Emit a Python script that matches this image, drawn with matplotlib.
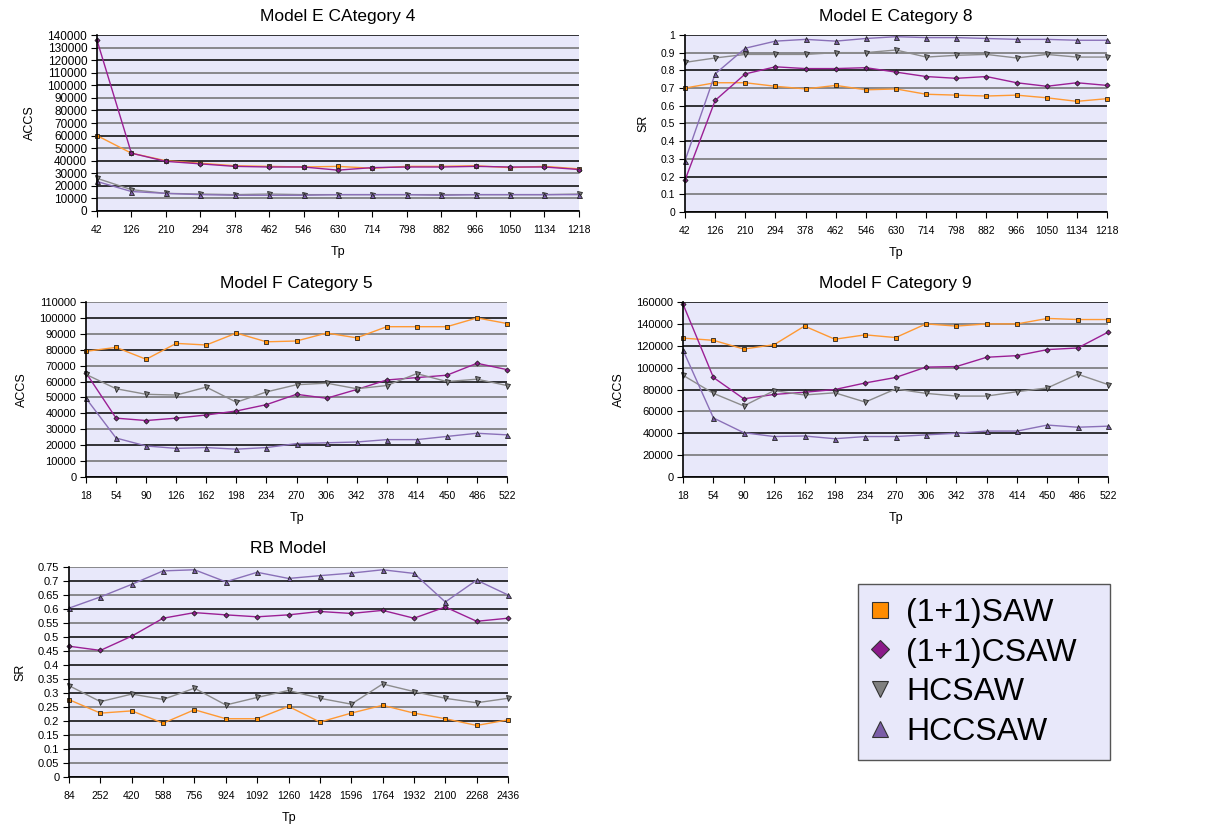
import numpy as np
import matplotlib.pyplot as plt
from matplotlib.patches import Rectangle

plt.rcParams['font.family'] = ['Liberation Sans', 'DejaVu Sans']

### Data
series_names = ['(1+1)SAW', '(1+1)CSAW', 'HCSAW', 'HCCSAW']

# Model E Category 4 (ACCS)
tp_e = [42, 126, 210, 294, 378, 462, 546, 630, 714, 798, 882, 966, 1050, 1134, 1218]
e4_saw = [60000, 46000, 40000, 38000, 36000, 35500, 35000, 35500, 34000, 35500, 35500, 36000, 34500, 35500, 33500]
e4_csaw = [136000, 46000, 39500, 37500, 35500, 35000, 35000, 32500, 34500, 35000, 35000, 35500, 35000, 35000, 33000]
e4_hcsaw = [26000, 17000, 14000, 13500, 13000, 13500, 13000, 13000, 13000, 13000, 13000, 13000, 13000, 13000, 13500]
e4_hccsaw = [23500, 15500, 14000, 13000, 12500, 12500, 12500, 13000, 13000, 13000, 12500, 13000, 13000, 13000, 13000]

# Model E Category 8 (SR)
e8_saw = [0.70, 0.73, 0.73, 0.71, 0.695, 0.715, 0.69, 0.695, 0.665, 0.66, 0.655, 0.66, 0.645, 0.625, 0.64]
e8_csaw = [0.18, 0.63, 0.78, 0.82, 0.81, 0.81, 0.815, 0.79, 0.765, 0.755, 0.765, 0.73, 0.71, 0.73, 0.715]
e8_hcsaw = [0.845, 0.87, 0.89, 0.89, 0.89, 0.90, 0.90, 0.915, 0.875, 0.885, 0.89, 0.87, 0.89, 0.875, 0.875]
e8_hccsaw = [0.29, 0.78, 0.925, 0.965, 0.975, 0.965, 0.98, 0.99, 0.985, 0.985, 0.98, 0.975, 0.975, 0.97, 0.97]

# Model F Category 5 (ACCS)
tp_f = [18, 54, 90, 126, 162, 198, 234, 270, 306, 342, 378, 414, 450, 486, 522]
f5_saw = [79000, 81500, 74000, 84000, 83000, 90500, 85000, 85500, 90500, 87500, 94500, 94500, 94500, 100000, 96500]
f5_csaw = [65500, 37000, 35500, 37000, 39000, 41500, 45500, 52000, 49500, 55000, 61000, 62500, 64000, 71500, 67500]
f5_hcsaw = [64500, 55500, 52000, 51500, 56500, 47000, 53500, 58000, 59000, 55500, 57500, 65000, 60000, 61500, 57500]
f5_hccsaw = [49500, 24500, 19500, 18000, 18500, 17500, 18500, 21000, 21500, 22000, 23500, 23500, 25500, 27500, 26500]

# Model F Category 9 (ACCS)
f9_saw = [127000, 125000, 117000, 121000, 138000, 126000, 130000, 127500, 140000, 138000, 140000, 140000, 145000, 144000, 144000]
f9_csaw = [158000, 91000, 71500, 75500, 77500, 80000, 86000, 91000, 100500, 101000, 109500, 111000, 116500, 118000, 132500]
f9_hcsaw = [93000, 76500, 65000, 79000, 75000, 77000, 68500, 80500, 76500, 74000, 74000, 78000, 81500, 94000, 84500]
f9_hccsaw = [116000, 54000, 40500, 37000, 37500, 35000, 37000, 37000, 38500, 40000, 42000, 42000, 47500, 45500, 46500]

# RB Model (SR)
tp_rb = [84, 252, 420, 588, 756, 924, 1092, 1260, 1428, 1596, 1764, 1932, 2100, 2268, 2436]
rb_saw = [0.276, 0.228, 0.236, 0.192, 0.240, 0.208, 0.208, 0.252, 0.196, 0.228, 0.256, 0.228, 0.208, 0.184, 0.204]
rb_csaw = [0.467, 0.452, 0.503, 0.567, 0.587, 0.579, 0.572, 0.579, 0.591, 0.584, 0.595, 0.567, 0.607, 0.556, 0.567]
rb_hcsaw = [0.326, 0.269, 0.296, 0.277, 0.317, 0.257, 0.284, 0.309, 0.281, 0.260, 0.332, 0.305, 0.281, 0.265, 0.281]
rb_hccsaw = [0.603, 0.643, 0.688, 0.736, 0.740, 0.697, 0.731, 0.709, 0.719, 0.728, 0.740, 0.727, 0.625, 0.703, 0.650]

### Styles
line_colors = ['#FF9933', '#9B1F95', '#8C8C8C', '#8A70B8']
face_colors = ['#FF8C00', '#8B1A89', '#808080', '#7B5EA7']
markers = ['s', 'D', 'v', '^']
msizes = [3.2, 2.6, 3.6, 3.6]
bg = '#E8E8FA'


def draw_panel(rect, title, tp, series, ymax, ystep, ylabel, fmt, ysize=7.5):
    ax = fig.add_axes(rect)
    ax.set_facecolor(bg)
    x = np.arange(len(tp))
    yt = np.arange(0, ymax + ystep / 2, ystep)
    for i, v in enumerate(yt):
        col = '#000000' if i % 2 == 0 else '#6E6E6E'
        ax.axhline(v, color=col, lw=1.1, zorder=1)
    for k, ys in enumerate(series):
        ax.plot(x, ys, color=line_colors[k], lw=1.0, marker=markers[k],
                ms=msizes[k], mfc=face_colors[k], mec='#222222', mew=0.6,
                zorder=3, clip_on=False)
    ax.set_xlim(0, len(tp) - 1)
    ax.set_ylim(0, ymax)
    ax.set_xticks(x)
    ax.set_xticklabels([str(t) for t in tp])
    ax.set_yticks(yt)
    ax.set_yticklabels([fmt(v) for v in yt])
    ax.tick_params(axis='both', labelsize=7.5, length=4, width=0.8, direction='out', pad=3)
    ax.tick_params(axis='y', labelsize=ysize)
    ax.tick_params(axis='x', pad=6)
    for s in ['top', 'right']:
        ax.spines[s].set_visible(False)
    for s in ['left', 'bottom']:
        ax.spines[s].set_color('black')
        ax.spines[s].set_linewidth(1.2)
        ax.spines[s].set_zorder(4)
    ax.set_title(title, fontsize=12.5, pad=10)
    ax.set_xlabel('Tp', fontsize=9, labelpad=8)
    ax.set_ylabel(ylabel, fontsize=9, labelpad=8)
    return ax


fig = plt.figure(figsize=(12.18, 8.3), dpi=100)

acc_fmt = lambda v: '%d' % int(round(v))
sr_fmt = lambda v: ('%g' % round(v, 2))

draw_panel([0.0796, 0.7458, 0.3957, 0.212], 'Model E CAtegory 4', tp_e,
           [e4_saw, e4_csaw, e4_hcsaw, e4_hccsaw], 140000, 10000, 'ACCS', acc_fmt, ysize=8.5)
draw_panel([0.5624, 0.7446, 0.3465, 0.2133], 'Model E Category 8', tp_e,
           [e8_saw, e8_csaw, e8_hcsaw, e8_hccsaw], 1.0, 0.1, 'SR', sr_fmt)
draw_panel([0.0706, 0.4253, 0.3457, 0.2108], 'Model F Category 5', tp_f,
           [f5_saw, f5_csaw, f5_hcsaw, f5_hccsaw], 110000, 10000, 'ACCS', acc_fmt, ysize=8)
draw_panel([0.5608, 0.4253, 0.349, 0.2108], 'Model F Category 9', tp_f,
           [f9_saw, f9_csaw, f9_hcsaw, f9_hccsaw], 160000, 20000, 'ACCS', acc_fmt, ysize=8)
draw_panel([0.0567, 0.0639, 0.3604, 0.253], 'RB Model', tp_rb,
           [rb_saw, rb_csaw, rb_hcsaw, rb_hccsaw], 0.75, 0.05, 'SR', sr_fmt, ysize=8)

# Legend box drawn separately so the padding matches
fig.patches.append(Rectangle((858 / 1218, 1 - 760 / 830), 252 / 1218, 176 / 830,
                             transform=fig.transFigure, facecolor=bg,
                             edgecolor='#555555', lw=1.0, zorder=0))
handles = [plt.Line2D([], [], ls='none', marker=markers[k], ms=[11, 9, 12, 12][k],
                      mfc=face_colors[k], mec='#333333', mew=0.8) for k in range(4)]
leg = fig.legend(handles, series_names, loc='upper left',
                 bbox_to_anchor=(866 / 1218, 1 - 598 / 830), fontsize=23,
                 frameon=False, handletextpad=0.35, labelspacing=0.3,
                 borderpad=0, handlelength=0.9, borderaxespad=0)

fig.savefig('out.png', dpi=100)
